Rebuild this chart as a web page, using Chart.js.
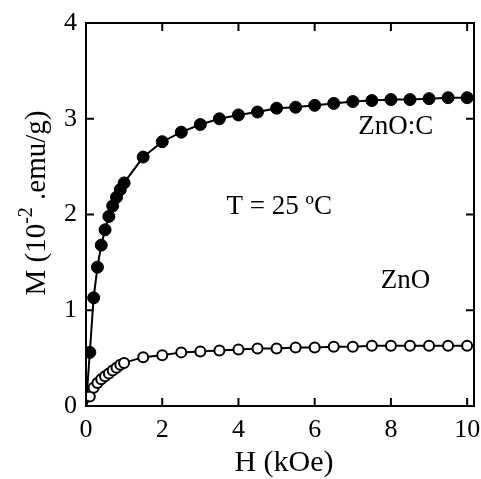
<!DOCTYPE html>
<html lang="en">
  <head>
    <meta charset="UTF-8" />
    <title>M vs H</title>
    <script src="https://cdn.jsdelivr.net/npm/chart.js"></script>
    <style>
      html, body { margin: 0; padding: 0; background: #fff; overflow: hidden; }
      #wrap { position: relative; width: 481px; height: 479px; }
    </style>
  </head>
  <body>
    <div id="wrap"><canvas id="mh"></canvas></div>
    <script>
      // field (kOe) and magnetization (10^-2 emu/g)
      const fieldKOe = [0, 0.1, 0.2, 0.3, 0.4, 0.5, 0.6, 0.7, 0.8, 0.9, 1.0,
        1.5, 2.0, 2.5, 3.0, 3.5, 4.0, 4.5, 5.0, 5.5, 6.0, 6.5, 7.0, 7.5, 8.0,
        8.5, 9.0, 9.5, 10.0];
      const mZnOC = [0, 0.56, 1.13, 1.45, 1.68, 1.84, 1.98, 2.09, 2.18, 2.26, 2.33,
        2.60, 2.76, 2.86, 2.94, 3.00, 3.04, 3.07, 3.11, 3.12, 3.14, 3.16, 3.18, 3.19, 3.20,
        3.20, 3.21, 3.22, 3.22];
      const mZnO = [0, 0.10, 0.19, 0.24, 0.28, 0.31, 0.34, 0.37, 0.40, 0.43, 0.45,
        0.51, 0.53, 0.56, 0.57, 0.58, 0.59, 0.60, 0.60, 0.61, 0.61, 0.62, 0.62, 0.63, 0.63,
        0.63, 0.63, 0.63, 0.63];
      const xTicks = [0, 2, 4, 6, 8, 10];
      const yTicks = [0, 1, 2, 3, 4];

      const serif = '"Liberation Serif", "Times New Roman", serif';
      const toPoints = (ys) => fieldKOe.map((h, i) => ({ x: h, y: ys[i] }));
      // no marker on the origin point, the line just starts there
      const radius = (r) => (c) => (c.dataIndex === 0 ? 0 : r);

      const framePlugin = {
        id: "frame",
        afterDraw(chart) {
          const { ctx, chartArea: a, scales: { x, y } } = chart;
          ctx.save();
          ctx.strokeStyle = "#000";
          ctx.lineWidth = 2;
          ctx.strokeRect(a.left, a.top, a.right - a.left, a.bottom - a.top);
          ctx.beginPath();
          xTicks.slice(1).forEach((v) => {
            const px = x.getPixelForValue(v);
            ctx.moveTo(px, a.bottom); ctx.lineTo(px, a.bottom - 8);
            ctx.moveTo(px, a.top); ctx.lineTo(px, a.top + 8);
          });
          yTicks.slice(1, -1).forEach((v) => {
            const py = y.getPixelForValue(v);
            ctx.moveTo(a.left, py); ctx.lineTo(a.left + 8, py);
            ctx.moveTo(a.right, py); ctx.lineTo(a.right - 8, py);
          });
          ctx.stroke();

          ctx.fillStyle = "#000";
          ctx.textAlign = "center";
          ctx.textBaseline = "middle";
          ctx.font = "27px " + serif;
          ctx.fillText("ZnO:C", x.getPixelForValue(8.13), y.getPixelForValue(2.91));
          ctx.fillText("T = 25 ºC", x.getPixelForValue(5.07), y.getPixelForValue(2.08));
          ctx.fillText("ZnO", x.getPixelForValue(8.38), y.getPixelForValue(1.31));

          // axis titles
          ctx.font = "30px " + serif;
          ctx.fillText("H (kOe)", 284, 463);

          ctx.translate(45, 203);
          ctx.rotate(-Math.PI / 2);
          ctx.textAlign = "left";
          ctx.textBaseline = "alphabetic";
          const big = "29px " + serif, small = "20px " + serif;
          ctx.font = big;
          const w1 = ctx.measureText("M (10").width;
          const w3 = ctx.measureText(" .emu/g)").width;
          ctx.font = small;
          const w2 = ctx.measureText("-2").width;
          let cx = -(w1 + w2 + w3) / 2;
          ctx.font = big;
          ctx.fillText("M (10", cx, 0);
          cx += w1;
          ctx.font = small;
          ctx.fillText("-2", cx, -13);
          cx += w2;
          ctx.font = big;
          ctx.fillText(" .emu/g)", cx, 0);
          ctx.restore();
        },
      };

      new Chart(document.getElementById("mh"), {
        type: "scatter",
        data: {
          datasets: [
            {
              label: "ZnO",
              data: toPoints(mZnO),
              showLine: true,
              borderColor: "#000",
              borderWidth: 2,
              pointBackgroundColor: "#fff",
              pointBorderColor: "#000",
              pointBorderWidth: 2,
              pointRadius: radius(5),
              tension: 0,
            },
            {
              label: "ZnO:C",
              data: toPoints(mZnOC),
              showLine: true,
              borderColor: "#000",
              borderWidth: 2,
              pointBackgroundColor: "#000",
              pointBorderColor: "#000",
              pointBorderWidth: 1,
              pointRadius: radius(6),
              tension: 0,
            },
          ],
        },
        options: {
          responsive: true,
          maintainAspectRatio: false,
          animation: false,
          layout: { padding: { top: 23, right: 6, left: 0, bottom: 0 } },
          plugins: { legend: { display: false }, tooltip: { enabled: false } },
          scales: {
            x: {
              type: "linear",
              min: 0,
              max: 10.18,
              grid: { display: false, drawTicks: false },
              border: { display: false },
              afterBuildTicks: (s) => { s.ticks = xTicks.map((v) => ({ value: v })); },
              afterFit: (s) => { s.height = 73; s.paddingLeft = 0; s.paddingRight = 0; },
              ticks: { color: "#000", font: { family: serif, size: 26 }, padding: 9, maxRotation: 0 },
            },
            y: {
              min: 0,
              max: 4,
              grid: { display: false, drawTicks: false },
              border: { display: false },
              afterBuildTicks: (s) => { s.ticks = yTicks.map((v) => ({ value: v })); },
              afterFit: (s) => { s.width = 86; s.paddingTop = 0; s.paddingBottom = 0; },
              ticks: { color: "#000", font: { family: serif, size: 26 }, padding: 9 },
            },
          },
        },
        plugins: [framePlugin],
      });
    </script>
  </body>
</html>
